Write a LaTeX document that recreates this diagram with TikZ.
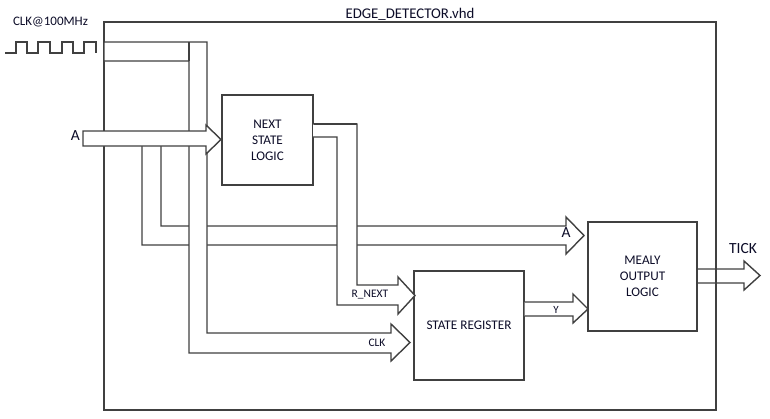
\documentclass[tikz,border=0pt]{standalone}
\usepackage{fontspec}
\setmainfont{Carlito}
\definecolor{lc}{HTML}{404040}
\definecolor{tc}{HTML}{0C0C28}
\begin{document}
\begin{tikzpicture}[x=1pt,y=-1pt,
  wire/.style={draw=lc,line width=1.4pt,line join=miter},
  fat/.style={draw=lc,fill=white,line width=1.4pt,line join=miter},
  blk/.style={draw=lc,fill=white,line width=1.4pt,inner sep=0pt,align=center,text=tc,font=\fontsize{13.2}{16}\selectfont},
  lbl/.style={inner sep=0pt,text=tc,anchor=base}]
\useasboundingbox (0,0) rectangle (770,418);
% TICK arrow (under the frame)
\coordinate (tickTip) at (760,275.5);
\filldraw[fat] (697,269) -- (744,269) -- (744,261) -- (tickTip) -- (744,290) -- (744,283) -- (697,283) -- cycle;
% outer frame
\node[draw=lc,line width=1.4pt,minimum width=612,minimum height=388,inner sep=0pt] (frame) at (410,216) {};
\node[lbl,font=\fontsize{14.8}{16}\selectfont] (title) at (410,18.3) {EDGE\_DETECTOR.vhd};
% clock waveform
\draw[wire] (5,53) -- (16,53) -- (16,42) -- (27,42) -- (27,53) -- (38,53) -- (38,42) -- (50,42) -- (50,53)
  -- (62,53) -- (62,42) -- (73,42) -- (73,53) -- (84,53) -- (84,42) -- (96,42) -- (96,53);
\node[lbl,font=\fontsize{13}{14}\selectfont] (clklbl) at (50.5,25.7) {CLK@100MHz};
% A branch to Mealy
\coordinate (aTip) at (584,235.5);
\path[fill=white] (142,146) -- (142,245) -- (566,245) -- (566,254) -- (aTip) -- (566,217) -- (566,226) -- (161,226) -- (161,146) -- cycle;
\draw[wire] (142,146) -- (142,245) -- (566,245) -- (566,254) -- (aTip) -- (566,217) -- (566,226) -- (161,226) -- (161,146);
% clock bus
\coordinate (clkTip) at (410,342.5);
\filldraw[fat] (104,42) -- (207,42) -- (207,333) -- (391,333) -- (391,324) -- (clkTip) -- (391,361) -- (391,353) -- (189,353) -- (189,61) -- (104,61) -- cycle;
\draw[wire] (189,42) -- (189,61);
% main A arrow
\coordinate (aMainTip) at (221,139.5);
\filldraw[fat] (83,131) -- (206,131) -- (206,125) -- (aMainTip) -- (206,154) -- (206,146) -- (83,146) -- cycle;
% blocks
\node[blk,minimum width=91,minimum height=90] (nsl) at (267.5,140) {NEXT\\STATE\\LOGIC};
\node[blk,minimum width=110,minimum height=109] (sr) at (469,325.5) {STATE REGISTER};
\node[blk,minimum width=109,minimum height=109] (mealy) at (642.5,276.5) {MEALY\\OUTPUT\\LOGIC};
% R_NEXT bus
\coordinate (rTip) at (415,295.5);
\filldraw[fat] (313,124) -- (357,124) -- (357,285) -- (398,285) -- (398,277) -- (rTip) -- (398,314) -- (398,305) -- (337,305) -- (337,137) -- (313,137);
\draw[wire] (nsl.east |- 0,124) -- (357,124);
% Y arrow
\coordinate (yTip) at (588,309);
\filldraw[fat] (sr.east |- 0,302) -- (573,302) -- (573,294) -- (yTip) -- (573,323) -- (573,316) -- (sr.east |- 0,316);
% labels
\node[lbl,font=\fontsize{15.5}{18}\selectfont,anchor=base east] (alab) at (80,140) {A};
\node[lbl,font=\fontsize{15.5}{18}\selectfont] (alab2) at (566,237) {A};
\node[lbl,font=\fontsize{15.5}{18}\selectfont] (ticklbl) at (743,253) {TICK};
\node[lbl,font=\fontsize{11.5}{12}\selectfont] (rnlbl) at (370,297) {R\_NEXT};
\node[lbl,font=\fontsize{11.5}{12}\selectfont] (clk2lbl) at (377,346) {CLK};
\node[lbl,font=\fontsize{11}{12}\selectfont] (ylbl) at (556,313) {Y};
\end{tikzpicture}
\end{document}
